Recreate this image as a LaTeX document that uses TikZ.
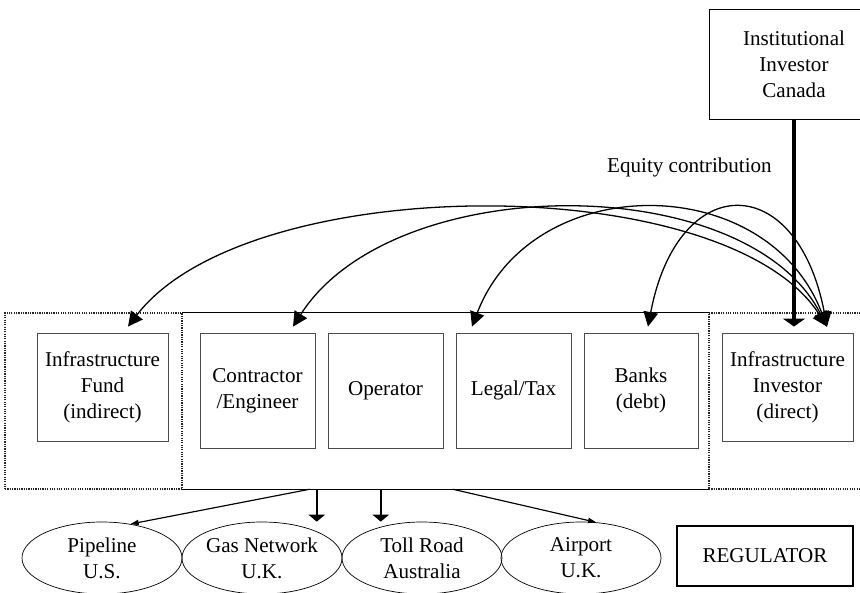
\documentclass[tikz,border=0pt]{standalone}
\usepackage{fontspec}
\setmainfont{Liberation Serif}
\usetikzlibrary{shapes.geometric,arrows.meta,positioning,calc}

\begin{document}
\begin{tikzpicture}[x=0.03cm,y=-0.03cm,
  every node/.style={font=\fontsize{18}{22.2}\selectfont},
  party/.style={draw=black!70,line width=0.7pt,rectangle,minimum width=3.45cm,minimum height=3.45cm,
                align=center,inner sep=2pt},
  group/.style={rectangle,minimum height=5.28cm,inner sep=0pt},
  dotbox/.style={draw=black!85,densely dotted,line width=1pt},
  asset/.style={draw,ellipse,line width=0.6pt,minimum width=4.8cm,minimum height=2.16cm,
                align=center,inner sep=0pt},
  deal/.style={<->,>={Triangle[length=12.5pt,width=12.5pt]},line width=1.1pt},
  thinarr/.style={-{Triangle[length=7pt,width=4.5pt]},line width=1pt},
  fatarr/.style={-{Triangle[length=6pt,width=14pt]},line width=1.6pt}
]
  \clip (0,0) rectangle (860,593);

  % Canadian investor on top
  \node[draw,line width=0.7pt,minimum width=5.1cm,minimum height=3.3cm,align=center]
    (inst) at (794,64) {Institutional\\Investor\\Canada};

  % Three groups
  \node[group,minimum width=15.81cm] (grpM) at (445.5,401) {};
  \draw[line width=0.8pt] (grpM.north west) -- (grpM.north east)
                          (grpM.south west) -- (grpM.south east);
  \node[group,dotbox,minimum width=5.31cm] (grpL) at (93.5,401) {};
  \node[group,dotbox,minimum width=4.83cm] (grpR) at (789.5,401) {};

  % Parties
  \node[party,minimum width=3.93cm,minimum height=3.24cm] (fund) at (102.5,387) {Infrastructure\\Fund\\(indirect)};
  \node[party] (contr)  at (257.5,390.5) {Contractor\\/Engineer};
  \node[party] (oper)   at (385.5,390.5) {Operator};
  \node[party] (legal)  at (513.5,390.5) {Legal/Tax};
  \node[party,minimum width=3.42cm] (banks) at (641,390.5) {Banks\\(debt)};
  \node[party,minimum width=3.93cm,minimum height=3.24cm] (invest) at (787.5,387) {Infrastructure\\Investor\\(direct)};

  % Assets
  \node[asset] (pipe)    at (102,558) {Pipeline\\U.S.};
  \node[asset] (gas)     at (262,558) {Gas Network\\U.K.};
  \node[asset] (toll)    at (422,558) {Toll Road\\Australia};
  \node[asset] (airport) at (581,558) {Airport\\U.K.};
  \node[draw,line width=1.3pt,minimum width=5.28cm,minimum height=1.8cm] (reg) at (765,556) {REGULATOR};

  % Arrow ends
  \coordinate (invtip)   at ($(invest.north)+(39.5,-6)$);
  \coordinate (fundtip)  at ($(fund.north)+(25.5,-6)$);
  \coordinate (contrtip) at ($(contr.north)+(35.5,-6)$);
  \coordinate (legaltip) at ($(legal.north)+(-41.5,-6)$);
  \coordinate (bankstip) at ($(banks.north)+(7,-6)$);

  % Equity contribution
  \draw[line width=4pt,-{Triangle[length=0.24cm,width=0.66cm]}] (inst.south) -- (inst.south |- invtip)
    node[pos=0.23,left=0.48cm]{Equity contribution};

  % Investor <-> parties
  \draw[deal] (fundtip)  .. controls +(120,-157) and +(-100,-157) .. (invtip);
  \draw[deal] (contrtip) .. controls +(100,-157) and +(-80,-157)  .. (invtip);
  \draw[deal] (legaltip) .. controls +(60,-157)  and +(-60,-157)  .. (invtip);
  \draw[deal] (bankstip) .. controls +(30,-157)  and +(-30,-157)  .. (invtip);

  % Group -> assets
  \coordinate (o1) at ($(grpM.south west)+(128,0)$);
  \coordinate (d1) at ($(grpM.south west)+(135,0)$);
  \coordinate (d2) at ($(grpM.south west)+(199,0)$);
  \coordinate (o2) at ($(grpM.south west)+(271,0)$);
  \draw[thinarr] (o1) -- (pipe.50);
  \draw[fatarr] (d1) -- (d1 |- gas.north);
  \draw[fatarr] (d2) -- (d2 |- toll.north);
  \draw[thinarr] (o2) -- (airport.67);
\end{tikzpicture}
\end{document}
